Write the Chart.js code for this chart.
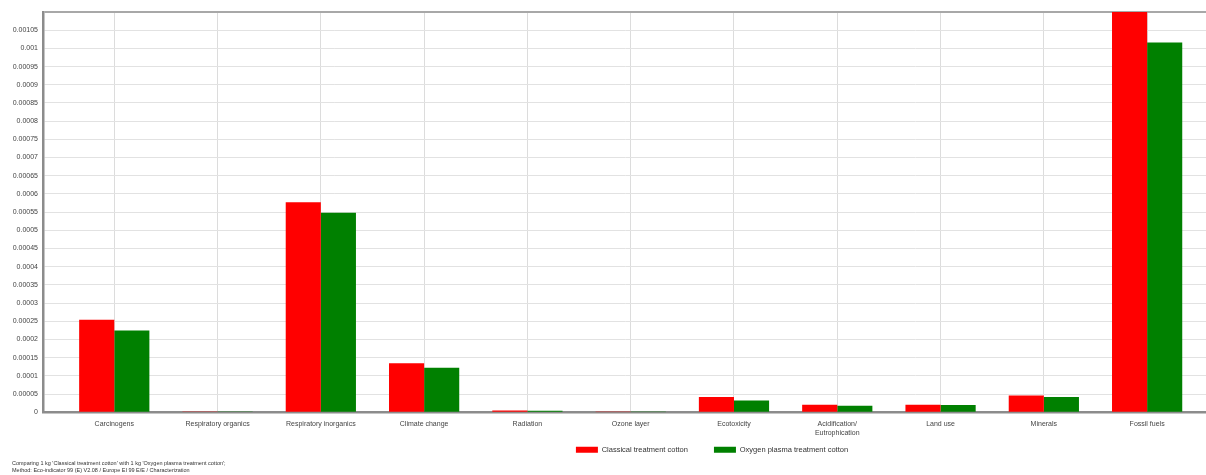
<!DOCTYPE html>
<html>
<head>
<meta charset="utf-8">
<script src="https://cdn.jsdelivr.net/npm/chart.js@4"></script>
<style>
  html, body { margin: 0; padding: 0; background: #fff; }
  #wrap { width: 1206px; height: 475px; }
</style>
</head>
<body>
<div id="wrap"><canvas id="chart" width="1206" height="475"></canvas></div>
<script>
// impact categories (Eco-indicator 99 characterisation)
const categories = [
  "Carcinogens", "Respiratory organics", "Respiratory inorganics", "Climate change",
  "Radiation", "Ozone layer", "Ecotoxicity", ["Acidification/", "Eutrophication"],
  "Land use", "Minerals", "Fossil fuels"
];
const classicalValues = [0.000254, 0.0000006, 0.000577, 0.000135, 0.000005, 0.0000002, 0.000042, 0.0000205, 0.0000205, 0.000046, 0.00112];
const plasmaValues    = [0.000225, 0.0000005, 0.000548, 0.000122, 0.000004, 0.0000002, 0.0000325, 0.000018, 0.00002, 0.000042, 0.001016];
const seriesNames = ["Classical treatment cotton", "Oxygen plasma treatment cotton"];
const footerLines = [
  "Comparing 1 kg 'Classical treatment cotton' with 1 kg 'Oxygen plasma treatment cotton';",
  "Method: Eco-indicator 99 (E) V2.08 / Europe EI 99 E/E / Characterization"
];
const yMax = 0.0011;
const yStep = 0.00005;

const font = "'Liberation Sans', Arial, sans-serif";
const legendPad = 26;

const toPoints = vals => vals.map((v, i) => ({ x: i, y: v }));

// legend is squeezed (maxHeight) so it doesn't eat the plot; put it where the original has it.
// the legend clips to its own box, so the box has to cover the items too
const placeBoxes = {
  id: "placeBoxes",
  afterLayout(chart) {
    const lg = chart.legend;
    if (lg) {
      lg.left += 109; lg.right += 109;
      lg.top = 450 - legendPad - 4;
      lg.bottom = 460;
    }
    const t = chart.titleBlock;
    if (t) { t.left += 12; t.right += 12; }
  }
};

new Chart(document.getElementById("chart"), {
  type: "bar",
  data: {
    datasets: [
      {
        label: seriesNames[0],
        data: toPoints(classicalValues),
        backgroundColor: "#ff0000",
        borderWidth: 0
      },
      {
        label: seriesNames[1],
        data: toPoints(plasmaValues),
        backgroundColor: "#008000",
        borderWidth: 0
      }
    ]
  },
  options: {
    responsive: false,
    animation: false,
    layout: { padding: { top: 12, right: 0, left: 0, bottom: 0 } },
    datasets: { bar: { categoryPercentage: 0.68, barPercentage: 1.0 } },
    scales: {
      x: {
        type: "linear",
        min: -0.69,
        max: 10.57,
        offset: false,
        ticks: {
          stepSize: 1,
          includeBounds: false,
          autoSkip: false,
          maxRotation: 0,
          padding: 8,
          color: "#444",
          font: { family: font, size: 7 },
          callback: v => (Number.isInteger(v) && categories[v] !== undefined) ? categories[v] : ""
        },
        grid: { offset: false, color: "#dcdcdc", lineWidth: 1, drawTicks: false },
        border: { color: "#8c8c8c", width: 2.5 },
        afterFit: s => { s.height = 26; }
      },
      y: {
        min: 0,
        max: yMax,
        ticks: {
          stepSize: yStep,
          padding: 5,
          color: "#444",
          font: { family: font, size: 7 },
          callback: v => v > yMax - yStep / 2 ? "" : String(Number(v.toFixed(6)))
        },
        grid: {
          drawTicks: false,
          color: c => c.tick && c.tick.value > yMax - yStep / 2 ? "#a8a8a8" : "#e2e2e2",
          lineWidth: c => c.tick && c.tick.value > yMax - yStep / 2 ? 2 : 1
        },
        border: { color: "#8c8c8c", width: 2.5 },
        afterFit: s => { s.width = 43; }
      }
    },
    plugins: {
      legend: {
        position: "bottom",
        maxHeight: 18,
        labels: {
          boxWidth: 22,
          boxHeight: 6,
          padding: legendPad,
          color: "#333",
          font: { family: font, size: 7.5 }
        }
      },
      title: {
        display: true,
        position: "bottom",
        align: "start",
        text: footerLines,
        color: "#333",
        font: { family: font, size: 5.5, weight: "normal", lineHeight: 1.25 },
        padding: { top: 4, bottom: 1 }
      },
      tooltip: { enabled: false }
    }
  },
  plugins: [placeBoxes]
});
</script>
</body>
</html>
